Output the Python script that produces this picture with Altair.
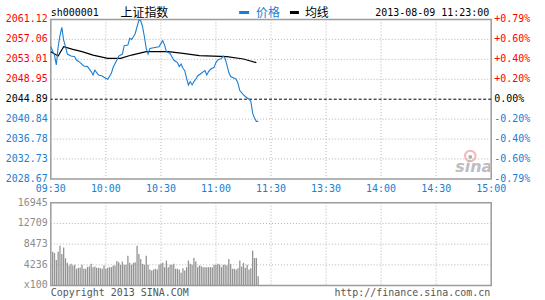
import altair as alt
import pandas as pd

MONO = "DejaVu Sans Mono"
CJK = "Noto Sans CJK SC"
BLUE = "#1a7ed2"
RED = "#ff0000"

# ---------------- data ----------------
PMIN, PMAX, BASE = 2028.67, 2061.12, 2044.89
VMAX = 16945

left_vals = [2061.12, 2057.06, 2053.01, 2048.95, 2044.89, 2040.84, 2036.78, 2032.73, 2028.67]
left_labels = ["2061.12", "2057.06", "2053.01", "2048.95", "2044.89", "2040.84", "2036.78", "2032.73", "2028.67"]
right_labels = ["+0.79%", "+0.60%", "+0.40%", "+0.20%", "0.00%", "-0.20%", "-0.40%", "-0.60%", "-0.79%"]

time_ticks = [0, 30, 60, 90, 120, 150, 180, 210, 240]
time_labels = ["09:30", "10:00", "10:30", "11:00", "11:30", "13:30", "14:00", "14:30", "15:00"]

vol_ticks = [16945, 12709, 8473, 4236, 0]
vol_labels = ["16945", "12709", "8473", "4236", "x100"]

# price line (minutes after 09:30, index value)
price_min = [0, 2, 3, 4, 5, 6, 7, 8, 9, 11, 13, 14, 16, 18, 20, 22, 23, 24, 25, 26, 28, 29, 31, 33, 34,
             36, 37, 39, 40, 42, 43, 44, 45, 46, 47, 48, 49, 50, 51, 52, 53, 54, 56, 59, 60, 61, 62, 63,
             65, 66, 67, 69, 70, 71, 72, 73, 74, 75, 76, 77, 78, 79, 80, 82, 84, 85, 86, 87, 89, 90, 91,
             93, 94, 95, 96, 97, 98, 100, 101, 102, 103, 105, 106, 108, 109, 110, 111, 112, 113]
price_val = [2055.58, 2053.88, 2051.85, 2055.58, 2057.90, 2059.50, 2056.90, 2055.60, 2054.08, 2053.68,
             2053.55, 2052.87, 2052.34, 2051.65, 2051.53, 2050.51, 2049.82, 2050.80, 2050.30, 2049.80,
             2049.60, 2049.35, 2048.95, 2050.17, 2051.40, 2052.87, 2053.68, 2054.08, 2055.79, 2055.90,
             2057.27, 2057.06, 2057.60, 2058.28, 2059.64, 2060.98, 2060.86, 2059.64, 2057.60, 2055.24,
             2054.08, 2055.24, 2055.38, 2055.58, 2056.25, 2056.80, 2055.90, 2054.57, 2054.22, 2053.55,
             2052.87, 2052.34, 2051.53, 2052.05, 2051.18, 2050.70, 2049.15, 2047.79, 2048.48, 2047.79,
             2048.48, 2048.95, 2049.62, 2050.17, 2050.71, 2049.82, 2050.51, 2050.98, 2051.38, 2052.34,
             2052.87, 2053.20, 2053.68, 2053.20, 2051.85, 2050.31, 2049.50, 2049.15, 2048.95, 2048.14,
             2046.66, 2045.77, 2045.44, 2044.89, 2044.49, 2042.05, 2041.04, 2040.37, 2040.37]

# average line
avg_min = [0, 4, 7, 12, 17, 23, 31, 38, 44, 52, 54, 64, 72, 81, 96, 105, 112]
avg_val = [2054.57, 2053.68, 2055.58, 2055.03, 2054.57, 2053.88, 2053.20, 2053.20, 2053.88, 2054.57,
           2054.57, 2054.57, 2054.22, 2053.75, 2053.55, 2053.07, 2052.34]

# volume (x100 shares), one bar per minute
vol_val = [6920, 6650, 5240, 6920, 8130, 6450, 7800, 5580, 4640, 4100, 4435, 4100, 4235, 3430, 3630,
           3630, 4235, 3430, 3430, 3830, 3900, 4435, 3760, 3900, 3630, 3630, 3560, 3430, 4100, 3430,
           3630, 3760, 3760, 4100, 4100, 5040, 4770, 4235, 4900, 4235, 4235, 6115, 4640, 4235, 4640,
           4770, 8130, 6450, 5440, 4435, 4235, 6115, 4235, 3290, 3090, 3290,
           3430, 3290, 4235, 4435, 4640, 3760, 5110, 3760, 4235, 4235, 4435, 3430, 3430, 3290, 2620,
           3560, 3090, 3760, 5110, 4435, 4235, 5645, 4900, 3760, 4100, 3965, 3760, 3760, 3760, 3760,
           3760, 3760, 4235, 4235, 4435, 4300, 3760, 4235, 4235, 4100, 5445, 4435, 3430, 3430, 3290,
           3560, 5110, 3900, 4640, 3630, 4235, 3290, 3560, 7120, 5645, 5645, 1880]
vol_min = list(range(1, len(vol_val) + 1))

# ---------------- layout ----------------
W, H1, H2 = 442, 160, 83
PADL, PADT, PADR, PADB = 50, 18, 53, 15

xs = alt.Scale(domain=[0, 240], nice=False, zero=False)
ys = alt.Scale(domain=[PMIN, PMAX], nice=False, zero=False)
vs = alt.Scale(domain=[0, VMAX], nice=False, zero=True)

grid = dict(color="#b4b4b4", strokeDash=[1, 2], strokeWidth=1)


def lab_color(v):
    if v > BASE + 0.001:
        return RED
    if v < BASE - 0.001:
        return BLUE
    return "#000000"


lab_df = pd.DataFrame({"p": left_vals, "t": left_labels, "r": right_labels,
                       "c": [lab_color(v) for v in left_vals]})
time_df = pd.DataFrame({"m": time_ticks, "t": time_labels})
price_df = pd.DataFrame({"m": price_min, "p": price_val})
avg_df = pd.DataFrame({"m": avg_min, "p": avg_val})
vol_df = pd.DataFrame({"m": vol_min, "v": vol_val})
vlab_df = pd.DataFrame({"v": vol_ticks, "t": vol_labels})

X = alt.X("m:Q", scale=xs, axis=None)
Yp = alt.Y("p:Q", scale=ys, axis=None)
Yv = alt.Y("v:Q", scale=vs, axis=None)

one = pd.DataFrame({"a": [0]})


def anchor(y):
    # invisible rule that fixes the outer bounds of the picture
    return alt.Chart(one).mark_rule(strokeOpacity=0, strokeWidth=1).encode(
        x=alt.value(-PADL + 0.5), x2=alt.value(W + PADR - 0.5), y=alt.value(y))


# price panel layers
hgrid = alt.Chart(pd.DataFrame({"p": [v for v in left_vals[1:-1] if abs(v - BASE) > 0.001]})).mark_rule(**grid).encode(y=Yp)
vgrid = alt.Chart(pd.DataFrame({"m": time_ticks[1:-1]})).mark_rule(**grid).encode(x=X)
zero = alt.Chart(pd.DataFrame({"p": [BASE]})).mark_rule(color="#000000", strokeDash=[3, 2], strokeWidth=1).encode(y=Yp)
avg_line = alt.Chart(avg_df).mark_line(color="#000000", strokeWidth=1.2).encode(x=X, y=Yp)
price_line = alt.Chart(price_df).mark_line(color=BLUE, strokeWidth=1.1).encode(x=X, y=Yp)

left_txt = alt.Chart(lab_df).mark_text(align="right", baseline="middle", font=MONO, fontSize=10).encode(
    x=alt.value(-3), y=Yp, text="t:N", color=alt.Color("c:N", scale=None))
right_txt = alt.Chart(lab_df).mark_text(align="left", baseline="middle", font=MONO, fontSize=10).encode(
    x=alt.value(W + 3), y=Yp, text="r:N", color=alt.Color("c:N", scale=None))
time_txt = alt.Chart(time_df).mark_text(align="center", baseline="middle", font=MONO, fontSize=10, color=BLUE).encode(
    x=X, y=alt.value(H1 + 10), text="t:N")


def txt(s, x, y, color="#000000", font=MONO, size=10, align="left", **kw):
    return alt.Chart(one).mark_text(text=s, align=align, baseline="middle", font=font, fontSize=size,
                                    color=color, **kw).encode(x=alt.value(x), y=alt.value(y))


header = [
    txt("sh000001", 0, -6),
    txt("上证指数", 70, -6, font=CJK, size=12),
    alt.Chart(one).mark_rule(color=BLUE, strokeWidth=3).encode(x=alt.value(189), x2=alt.value(199), y=alt.value(-7)),
    txt("价格", 206, -6, color=BLUE, font=CJK, size=12),
    alt.Chart(one).mark_rule(color="#000000", strokeWidth=3).encode(x=alt.value(240), x2=alt.value(249), y=alt.value(-7)),
    txt("均线", 255, -6, font=CJK, size=12),
    txt("2013-08-09 11:23:00", 440, -6, align="right"),
]

logo = [
    alt.Chart(one).mark_point(shape="circle", size=110, filled=False, color="#f29a9a", strokeWidth=2, opacity=0.7).encode(
        x=alt.value(421), y=alt.value(137)),
    alt.Chart(one).mark_point(shape="circle", size=14, filled=True, color="#999999", opacity=0.8).encode(
        x=alt.value(421), y=alt.value(138)),
    txt("sina", 406, 148, color="#bdbdbd", font="DejaVu Sans", size=16, fontStyle="italic", fontWeight="bold"),
]

price_panel = alt.layer(hgrid, vgrid, zero, avg_line, price_line, left_txt, right_txt, time_txt,
                        *header, *logo, anchor(-PADT + 0.5)).properties(width=W, height=H1)

# volume panel
vhgrid = alt.Chart(pd.DataFrame({"v": vol_ticks[1:-1]})).mark_rule(**grid).encode(y=Yv)
vvgrid = alt.Chart(pd.DataFrame({"m": time_ticks[1:-1]})).mark_rule(**grid).encode(x=X)
bars = alt.Chart(vol_df).mark_rule(color="#939393", strokeWidth=1.3).encode(
    x=X, y=Yv, y2=alt.datum(0))
vlab = alt.Chart(vlab_df).mark_text(align="right", baseline="middle", font=MONO, fontSize=10, color="#8c8c8c").encode(
    x=alt.value(-3), y=Yv, text="t:N")
footer = [
    txt("Copyright 2013 SINA.COM", 0, H2 + 8, color="#555555"),
    txt("http://finance.sina.com.cn", W - 1, H2 + 8, color="#555555", align="right"),
]
vol_panel = alt.layer(vhgrid, vvgrid, bars, vlab, *footer, anchor(H2 + PADB - 0.5)).properties(width=W, height=H2)

chart = alt.vconcat(price_panel, vol_panel, spacing=24, bounds="flush").properties(
    padding=0,
).configure_view(stroke="#9c9c9c", strokeWidth=1.5)

chart.save("out.html", embed_options={"renderer": "svg", "actions": False})
